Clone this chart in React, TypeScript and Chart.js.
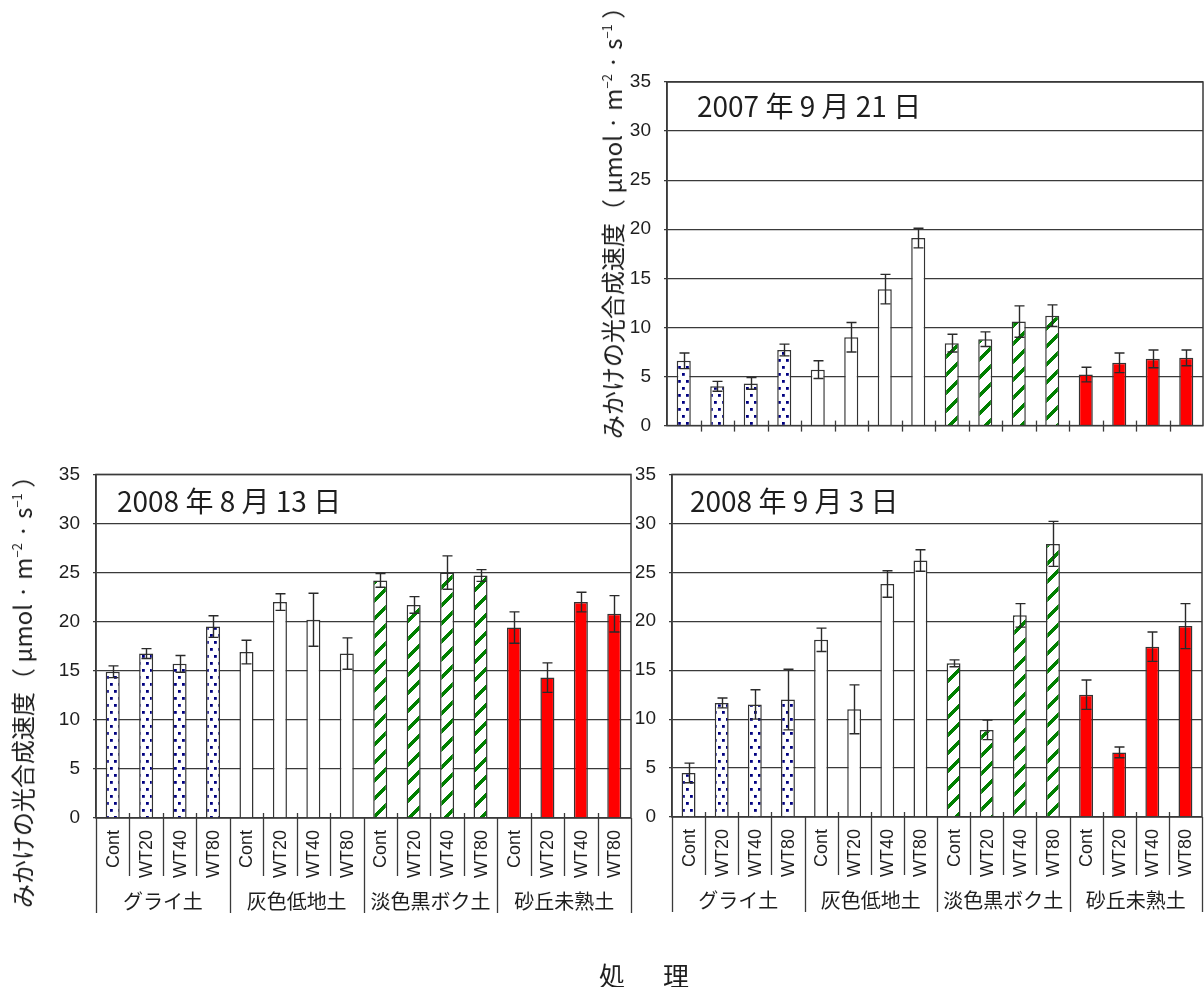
import React, { useEffect, useRef } from "react";
import { Chart, registerables } from "chart.js";

Chart.register(...registerables);

// Treatments and soil groups along the x axis
const treatments = ["Cont", "WT20", "WT40", "WT80"];
const soils = ["グライ土", "灰色低地土", "淡色黒ボク土", "砂丘未熟土"];
const categories = soils.flatMap((s) => treatments.map((t) => `${s} ${t}`));

// y axis range
const yMin = 0;
const yMax = 35;
const yStep = 5;

// Apparent photosynthetic rate (μmol·m-2·s-1) and standard errors
const rate20070921 = [6.6, 4.0, 4.3, 7.7, 5.7, 9.0, 13.9, 19.1, 8.4, 8.8, 10.6, 11.2, 5.2, 6.4, 6.8, 6.9];
const err20070921 = [0.8, 0.5, 0.6, 0.6, 0.9, 1.5, 1.5, 1.0, 0.9, 0.75, 1.6, 1.1, 0.75, 1.0, 0.9, 0.8];

const rate20080813 = [14.9, 16.75, 15.7, 19.5, 16.9, 22.0, 20.2, 16.75, 24.2, 21.7, 25.0, 24.7, 19.4, 14.3, 22.0, 20.8];
const err20080813 = [0.6, 0.5, 0.85, 1.1, 1.2, 0.85, 2.7, 1.6, 0.7, 0.85, 1.7, 0.6, 1.6, 1.5, 1.0, 1.85];

const rate20080903 = [4.5, 11.65, 11.5, 12.0, 18.1, 11.0, 23.8, 26.2, 15.7, 8.9, 20.6, 27.9, 12.5, 6.6, 17.4, 19.5];
const err20080903 = [1.0, 0.5, 1.5, 3.1, 1.2, 2.5, 1.35, 1.1, 0.35, 1.0, 1.2, 2.3, 1.5, 0.55, 1.5, 2.3];

const title20070921 = "2007 年 9 月 21 日";
const title20080813 = "2008 年 8 月 13 日";
const title20080903 = "2008 年 9 月 3 日";

const LINE = "#3a3a3a";
const TEXT = "#1e1e1e";
const JP = "'Noto Sans CJK JP', 'Noto Sans', sans-serif";
const LATIN = "'Liberation Sans', Arial, sans-serif";

function dotPattern(ctx: CanvasRenderingContext2D) {
  const w = 8;
  const h = 14;
  const c = document.createElement("canvas");
  c.width = w;
  c.height = h;
  const g = c.getContext("2d")!;
  g.fillStyle = "#ffffff";
  g.fillRect(0, 0, w, h);
  g.fillStyle = "#000080";
  g.fillRect(2, 2, 2.8, 2.8);
  g.fillRect(6, 9, 2.8, 2.8);
  g.fillRect(-2, 9, 2.8, 2.8);
  return ctx.createPattern(c, "repeat")!;
}

function stripePattern(ctx: CanvasRenderingContext2D) {
  const n = 18;
  const c = document.createElement("canvas");
  c.width = n;
  c.height = n;
  const g = c.getContext("2d")!;
  g.fillStyle = "#ffffff";
  g.fillRect(0, 0, n, n);
  g.fillStyle = "#008000";
  for (let y = 0; y < n; y++) {
    for (let x = 0; x < n; x++) {
      if ((x + y) % n < 5) g.fillRect(x, y, 1, 1);
    }
  }
  return ctx.createPattern(c, "repeat")!;
}

type PanelSpec = {
  left: number;
  top: number;
  width: number;
  height: number;
  area: { left: number; right: number; top: number; bottom: number };
  values: number[];
  errors: number[];
  title: string;
  titleDx: number;
  titleDy: number;
  withLabels: boolean;
};

const decorPlugin = {
  id: "decor",
  afterDatasetsDraw(chart: any, _args: any, opts: any) {
    const { ctx, chartArea: a, scales } = chart;
    const x = scales.x;
    const y = scales.y;
    const meta = chart.getDatasetMeta(0);
    const errors: number[] = opts.errors;
    const values: number[] = chart.data.datasets[0].data;

    ctx.save();
    // frame around the plot area
    ctx.strokeStyle = LINE;
    ctx.lineWidth = 1.5;
    ctx.strokeRect(a.left, a.top, a.right - a.left, a.bottom - a.top);

    // error bars
    ctx.strokeStyle = "#2a2a2a";
    ctx.lineWidth = 1.4;
    meta.data.forEach((bar: any, i: number) => {
      const cx = Math.round(bar.x) + 0.5;
      const hi = y.getPixelForValue(values[i] + errors[i]);
      const lo = y.getPixelForValue(values[i] - errors[i]);
      ctx.beginPath();
      ctx.moveTo(cx, hi);
      ctx.lineTo(cx, lo);
      ctx.moveTo(cx - 5, hi);
      ctx.lineTo(cx + 5, hi);
      ctx.moveTo(cx - 5, lo);
      ctx.lineTo(cx + 5, lo);
      ctx.stroke();
    });

    // category boundaries below the baseline
    const step = x.getPixelForValue(1) - x.getPixelForValue(0);
    const n = categories.length;
    ctx.strokeStyle = LINE;
    ctx.lineWidth = 1.3;
    for (let i = 0; i <= n; i++) {
      const bx = Math.round(x.getPixelForValue(i) - step / 2) + 0.5;
      const isGroup = i % treatments.length === 0;
      let y0 = a.bottom - 5;
      let y1 = a.bottom + 6;
      if (opts.withLabels) {
        y1 = isGroup ? a.bottom + 95 : a.bottom + 58;
        if (isGroup) y0 = a.bottom;
      } else if (isGroup && (i === 0 || i === n)) {
        continue;
      }
      ctx.beginPath();
      ctx.moveTo(bx, y0);
      ctx.lineTo(bx, y1);
      ctx.stroke();
    }

    if (opts.withLabels) {
      ctx.fillStyle = TEXT;
      ctx.font = `18px ${LATIN}`;
      ctx.textAlign = "right";
      ctx.textBaseline = "middle";
      for (let i = 0; i < n; i++) {
        const cx = x.getPixelForValue(i);
        ctx.save();
        ctx.translate(cx + 1, a.bottom + 12);
        ctx.rotate(-Math.PI / 2);
        ctx.fillText(treatments[i % treatments.length], 0, 0);
        ctx.restore();
      }
      ctx.font = `20px ${JP}`;
      ctx.textAlign = "center";
      soils.forEach((s, g) => {
        const first = x.getPixelForValue(g * treatments.length);
        const last = x.getPixelForValue(g * treatments.length + treatments.length - 1);
        ctx.fillText(s, (first + last) / 2, a.bottom + 83);
      });
    }

    // date title
    ctx.fillStyle = TEXT;
    ctx.font = `28px ${JP}`;
    ctx.textAlign = "left";
    ctx.textBaseline = "middle";
    ctx.fillText(opts.title, a.left + opts.titleDx, a.top + opts.titleDy);
    ctx.restore();
  },
};

function Panel({ spec }: { spec: PanelSpec }) {
  const ref = useRef<HTMLCanvasElement>(null);
  useEffect(() => {
    const canvas = ref.current!;
    const ctx = canvas.getContext("2d")!;
    const fills = [dotPattern(ctx), "#ffffff", stripePattern(ctx), "#ff0000"];
    const colors = categories.map((_, i) => fills[Math.floor(i / treatments.length)]);
    const yWidth = spec.area.left - spec.left;
    const chart = new Chart(ctx, {
      type: "bar",
      data: {
        labels: categories,
        datasets: [
          {
            data: spec.values,
            backgroundColor: colors as any,
            borderColor: "#333333",
            borderWidth: 1.5,
            barPercentage: 0.42,
            categoryPercentage: 1,
          },
        ],
      },
      options: {
        responsive: false,
        animation: false,
        devicePixelRatio: 1,
        layout: {
          padding: {
            left: 0,
            top: spec.area.top - spec.top,
            right: spec.left + spec.width - spec.area.right,
            bottom: spec.top + spec.height - spec.area.bottom,
          },
        },
        plugins: {
          legend: { display: false },
          tooltip: { enabled: false },
          decor: {
            errors: spec.errors,
            title: spec.title,
            titleDx: spec.titleDx,
            titleDy: spec.titleDy,
            withLabels: spec.withLabels,
          },
        } as any,
        scales: {
          x: { display: false, offset: true },
          y: {
            min: yMin,
            max: yMax,
            afterFit: (s: any) => {
              s.width = yWidth;
            },
            ticks: {
              stepSize: yStep,
              padding: 13,
              color: TEXT,
              font: { size: 19, family: LATIN },
            },
            grid: { color: LINE, lineWidth: 1.2, tickLength: 3 },
            border: { color: LINE, width: 1.5 },
          },
        },
      },
      plugins: [decorPlugin],
    });
    return () => chart.destroy();
  }, [spec]);
  return (
    <canvas
      ref={ref}
      width={spec.width}
      height={spec.height}
      style={{ position: "absolute", left: spec.left, top: spec.top, width: spec.width, height: spec.height }}
    />
  );
}

const panels: PanelSpec[] = [
  {
    left: 580, top: 0, width: 624, height: 450,
    area: { left: 667, right: 1203, top: 82, bottom: 434 },
    values: rate20070921, errors: err20070921, title: title20070921,
    titleDx: 30, titleDy: 24, withLabels: false,
  },
  {
    left: 0, top: 450, width: 636, height: 537,
    area: { left: 96, right: 631, top: 467, bottom: 818 },
    values: rate20080813, errors: err20080813, title: title20080813,
    titleDx: 21, titleDy: 27, withLabels: true,
  },
  {
    left: 636, top: 450, width: 568, height: 537,
    area: { left: 672, right: 1202, top: 467, bottom: 817 },
    values: rate20080903, errors: err20080903, title: title20080903,
    titleDx: 18, titleDy: 27, withLabels: true,
  },
];

const supStyle = { fontSize: 13, verticalAlign: "10px" } as const;

function YTitle({ cx, cy }: { cx: number; cy: number }) {
  return (
    <div
      style={{
        position: "absolute",
        left: cx,
        top: cy,
        transform: "translate(-50%, -50%) rotate(-90deg)",
        whiteSpace: "nowrap",
        fontFamily: JP,
        fontSize: 24,
        lineHeight: 1,
        color: TEXT,
      }}
    >
      みかけの光合成速度（ μmol · m<sup style={supStyle}>−2</sup> · s<sup style={supStyle}>−1</sup> ）
    </div>
  );
}

export default function App() {
  return (
    <div
      style={{
        position: "absolute",
        left: 0,
        top: 0,
        width: 1204,
        height: 987,
        background: "#ffffff",
        overflow: "hidden",
      }}
    >
      {panels.map((p, i) => (
        <Panel key={i} spec={p} />
      ))}
      <YTitle cx={612} cy={217} />
      <YTitle cx={22} cy={686} />
      <div
        style={{
          position: "absolute",
          left: 647,
          top: 975,
          transform: "translate(-50%, -50%)",
          fontFamily: JP,
          fontSize: 26,
          lineHeight: 1,
          color: TEXT,
          whiteSpace: "nowrap",
          letterSpacing: 6,
        }}
      >
        処　理
      </div>
    </div>
  );
}
